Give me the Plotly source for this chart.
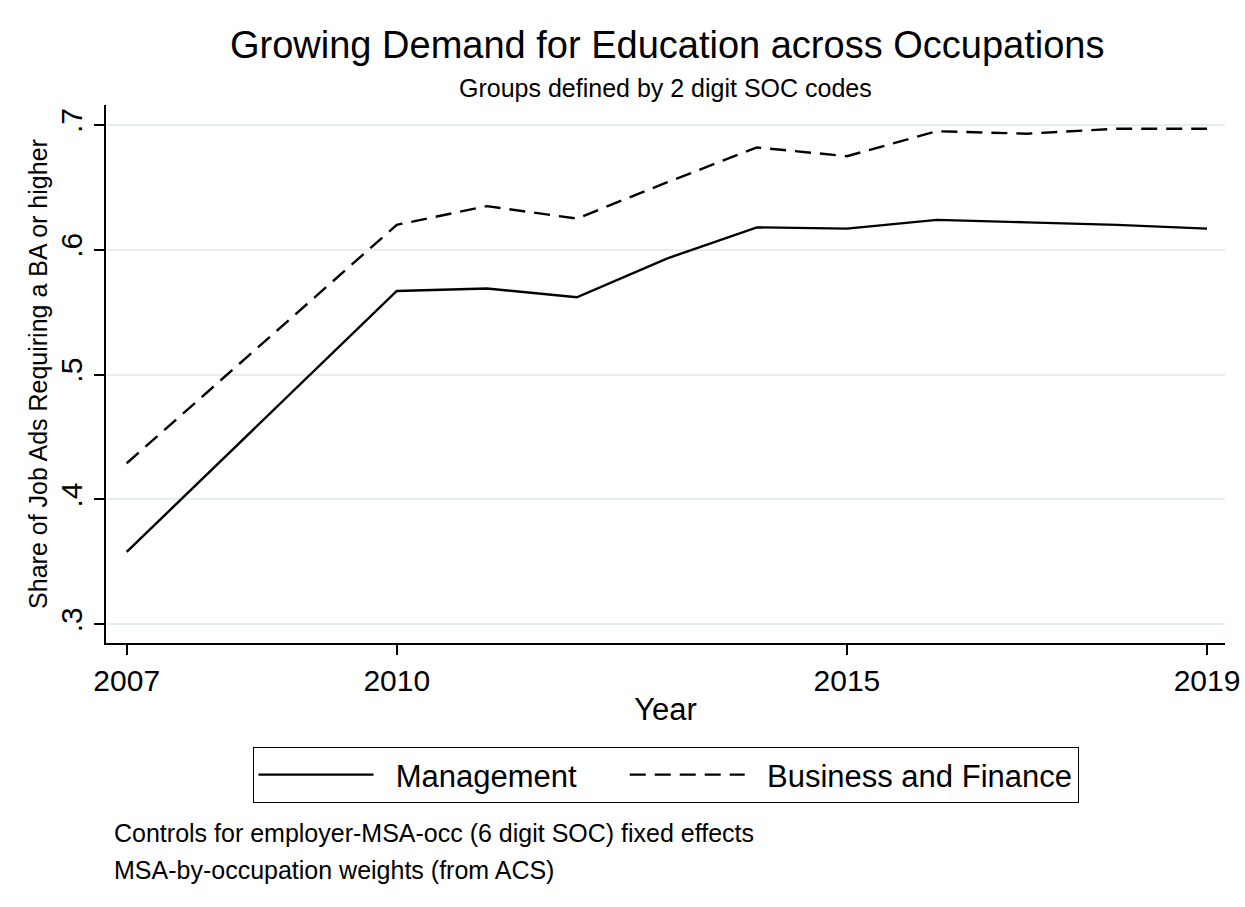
import plotly.graph_objects as go

years = [2007, 2010, 2011, 2012, 2013, 2014, 2015, 2016, 2017, 2018, 2019]
management = [0.358, 0.567, 0.569, 0.562, 0.593, 0.618, 0.617, 0.624, 0.622, 0.620, 0.617]
business = [0.429, 0.620, 0.635, 0.625, 0.654, 0.682, 0.675, 0.695, 0.693, 0.697, 0.697]

y_ticks = [0.3, 0.4, 0.5, 0.6, 0.7]
y_ticktext = [".3", ".4", ".5", ".6", ".7"]
x_ticks = [2007, 2010, 2015, 2019]

FONT = "Arial, Liberation Sans, sans-serif"
NB = "\u00a0"

fig = go.Figure()
fig.add_trace(go.Scatter(x=years, y=management, mode="lines",
                         name=NB * 2 + "Management" + NB * 5,
                         line=dict(color="black", width=2.4)))
fig.add_trace(go.Scatter(x=years, y=business, mode="lines",
                         name=NB * 2 + "Business and Finance",
                         line=dict(color="black", width=2.4, dash="16px,9px")))

PH = 538  # plot height in px (105 .. 643)

fig.update_layout(
    width=1245, height=907,
    paper_bgcolor="white", plot_bgcolor="white",
    margin=dict(l=106, r=20, t=105, b=264),
    font=dict(family=FONT, color="black"),
    showlegend=True,
    legend=dict(orientation="h", x=0.5, xanchor="center", y=(643 - 747) / PH, yanchor="top",
                bordercolor="black", borderwidth=1, bgcolor="white",
                font=dict(size=31, family=FONT), itemwidth=115,
                tracegroupgap=0),
    xaxis=dict(range=[2006.77, 2019.2], tickvals=x_ticks, showgrid=False,
               showline=True, linecolor="black", linewidth=2,
               ticks="outside", ticklen=10, tickcolor="black", tickwidth=1.5,
               tickfont=dict(size=30, family=FONT), zeroline=False,
               ticklabeloverflow="allow", automargin=False,
               title=dict(text="Year", font=dict(size=31, family=FONT), standoff=2)),
    yaxis=dict(range=[0.285, 0.716], tickvals=y_ticks, ticktext=y_ticktext,
               showgrid=True, gridcolor="#e6eef0", gridwidth=1.5,
               showline=True, linecolor="black", linewidth=2,
               ticks="outside", ticklen=10, tickcolor="black", tickwidth=1.5, tickangle=-90,
               tickfont=dict(size=30, family=FONT), zeroline=False,
               ticklabeloverflow="allow", automargin=False,
               title=dict(text="Share of Job Ads Requiring a BA or higher",
                          font=dict(size=25, family=FONT), standoff=0)),
    annotations=[
        dict(text="Growing Demand for Education across Occupations", xref="paper", yref="paper",
             x=0.501, y=(643 - 45) / PH, xanchor="center", yanchor="middle", showarrow=False,
             font=dict(size=38, family=FONT)),
        dict(text="Groups defined by 2 digit SOC codes", xref="paper", yref="paper",
             x=0.5, y=(643 - 88) / PH, xanchor="center", yanchor="middle", showarrow=False,
             font=dict(size=25, family=FONT)),
        dict(text="Controls for employer-MSA-occ (6 digit SOC) fixed effects", xref="paper", yref="paper",
             x=0.0054, y=(643 - 833) / PH, xanchor="left", yanchor="middle", showarrow=False,
             font=dict(size=25, family=FONT)),
        dict(text="MSA-by-occupation weights (from ACS)", xref="paper", yref="paper",
             x=0.0054, y=(643 - 870) / PH, xanchor="left", yanchor="middle", showarrow=False,
             font=dict(size=25, family=FONT)),
    ],
)

fig.write_html("out.html", config={"displayModeBar": False},
               post_script="document.body.style.margin='0';document.body.style.overflow='hidden';")
